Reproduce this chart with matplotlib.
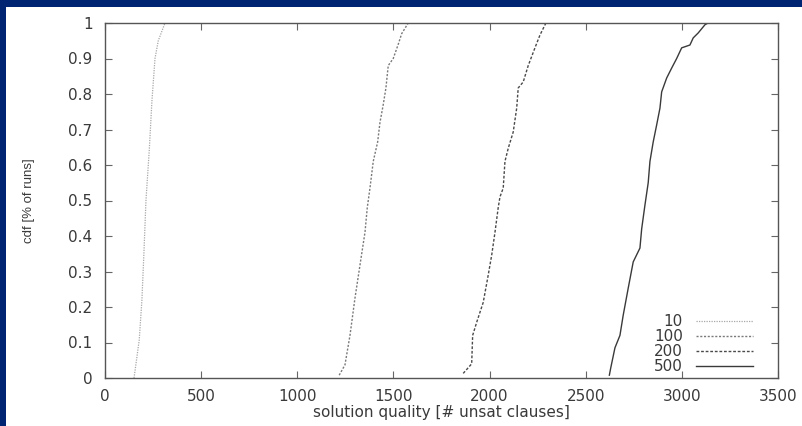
import matplotlib.pyplot as plt
from matplotlib.patches import Rectangle

# --- Data ---
cdf_10_x = [151, 178, 192, 203, 213, 230, 244, 260, 277, 312]
cdf_10_y = [0.0, 0.107, 0.22, 0.36, 0.50, 0.64, 0.78, 0.90, 0.95, 1.0]

cdf_100_x = [1218, 1248, 1274, 1300, 1335, 1352, 1364, 1378, 1395, 1418, 1430,
             1447, 1461, 1473, 1499, 1525, 1543, 1577]
cdf_100_y = [0.008, 0.037, 0.12, 0.225, 0.35, 0.41, 0.48, 0.535, 0.61, 0.665, 0.72,
             0.77, 0.817, 0.88, 0.90, 0.94, 0.97, 1.0]

cdf_200_x = [1863, 1907, 1912, 1933, 1967, 1993, 2011, 2028, 2045, 2054, 2071,
             2080, 2097, 2123, 2141, 2149, 2175, 2201, 2236, 2262, 2293]
cdf_200_y = [0.013, 0.04, 0.12, 0.157, 0.213, 0.29, 0.346, 0.41, 0.48, 0.51, 0.535,
             0.61, 0.647, 0.693, 0.76, 0.817, 0.834, 0.88, 0.93, 0.966, 1.0]

cdf_500_x = [2623, 2630, 2652, 2678, 2695, 2721, 2747, 2782, 2791, 2808, 2825,
             2834, 2851, 2869, 2886, 2895, 2921, 2947, 2973, 2999, 3042, 3059,
             3085, 3120, 3136]
cdf_500_y = [0.008, 0.028, 0.085, 0.12, 0.177, 0.253, 0.327, 0.366, 0.42, 0.487, 0.55,
             0.61, 0.665, 0.713, 0.76, 0.806, 0.845, 0.873, 0.90, 0.93, 0.938, 0.958,
             0.972, 0.995, 1.0]

x_ticks = [0, 500, 1000, 1500, 2000, 2500, 3000, 3500]
y_ticks = [0, 0.1, 0.2, 0.3, 0.4, 0.5, 0.6, 0.7, 0.8, 0.9, 1]
y_tick_labels = ['0', '0.1', '0.2', '0.3', '0.4', '0.5', '0.6', '0.7', '0.8', '0.9', '1']

# --- Plotting ---
plt.rcParams['font.family'] = ['DejaVu Sans']
fig = plt.figure(figsize=(8.02, 4.26), dpi=100, facecolor='#002472')
# white slide area (navy strip only at top and left)
fig.patches.append(Rectangle((6 / 802, 0), 1, 1 - 7 / 426, transform=fig.transFigure,
                             facecolor='white', edgecolor='none', zorder=-10))

ax = fig.add_axes([105 / 802, 48 / 426, 673 / 802, 355 / 426])
ax.set_facecolor('white')

ax.plot(cdf_10_x, cdf_10_y, color='#a8a8a8', linestyle=(0, (1, 1)), linewidth=0.9, label='10')
ax.plot(cdf_100_x, cdf_100_y, color='#7a7a7a', linestyle=(0, (1.5, 1.2)), linewidth=1.0, label='100')
ax.plot(cdf_200_x, cdf_200_y, color='#4a4a4a', linestyle=(0, (2, 1.3)), linewidth=1.0, label='200')
ax.plot(cdf_500_x, cdf_500_y, color='#3a3a3a', linestyle='-', linewidth=1.0, label='500')

# --- Axes styling (gnuplot look) ---
ax.set_xlim(0, 3500)
ax.set_ylim(0, 1)
ax.set_xticks(x_ticks)
ax.set_yticks(y_ticks)
ax.set_yticklabels(y_tick_labels)
ax.tick_params(direction='in', length=5, width=0.8, color='#666666', top=True, right=True,
               labelsize=11, labelcolor='#3a3a3a')
ax.tick_params(axis='x', pad=8)
ax.tick_params(axis='y', pad=9)
for s in ax.spines.values():
    s.set_color('#555555')
    s.set_linewidth(1.0)

ax.set_xlabel('solution quality [# unsat clauses]', fontsize=11, color='#3a3a3a', labelpad=1)
ax.set_ylabel('cdf [% of runs]', fontsize=9.5, color='#3a3a3a', labelpad=24,
              family='Liberation Sans')

leg = ax.legend(loc='lower right', frameon=False, markerfirst=False, fontsize=11,
                handlelength=3.7, handletextpad=0.9, labelspacing=0.0,
                borderpad=0, borderaxespad=0,
                bbox_to_anchor=((753 - 105) / 673, 4 / 355))
for t in leg.get_texts():
    t.set_color('#3a3a3a')

plt.savefig('out.png', dpi=100, facecolor=fig.get_facecolor())
